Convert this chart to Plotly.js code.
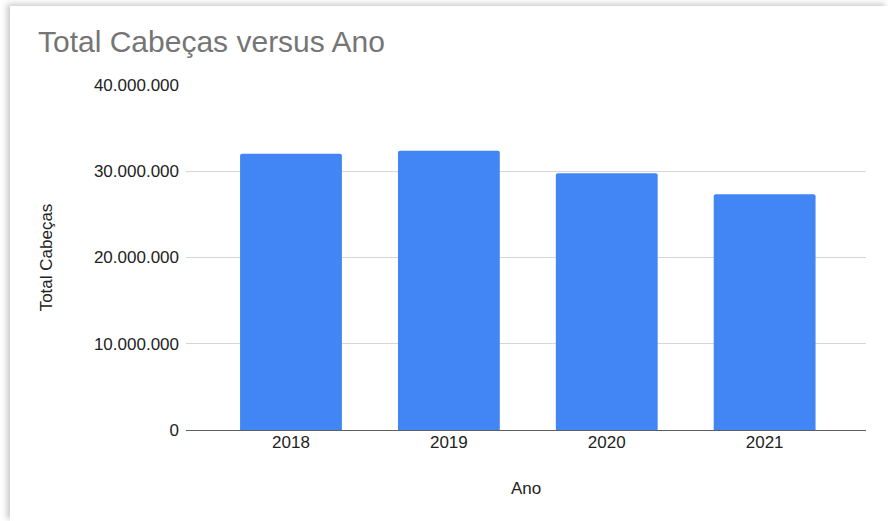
<!DOCTYPE html>
<html>
<head>
<meta charset="utf-8">
<script src="https://cdn.plot.ly/plotly-3.0.1.min.js"></script>
<style>
html,body{margin:0;padding:0;background:#fff;width:888px;height:521px;overflow:hidden;}
#chart{position:absolute;left:10px;top:6px;width:878px;height:515px;box-shadow:-3px -2px 6px rgba(0,0,0,0.22);background:#fff;}
</style>
</head>
<body>
<div id="chart"></div>
<script>
const anos = ['2018', '2019', '2020', '2021'];
const totalCabecas = [32020000, 32370000, 29780000, 27340000];
const yTicks = [0, 10000000, 20000000, 30000000, 40000000];

const trace = {
  type: 'bar',
  x: anos,
  y: totalCabecas,
  marker: {color: '#4285F4', cornerradius: 2},
  width: 0.645,
  hoverinfo: 'x+y'
};

const layout = {
  width: 878,
  height: 515,
  separators: ',.',
  paper_bgcolor: '#ffffff',
  plot_bgcolor: '#ffffff',
  margin: {l: 176, r: 22, t: 79, b: 91},
  font: {family: 'Liberation Sans, Arial, sans-serif', color: '#222222', size: 17},
  title: {
    text: 'Total Cabeças versus Ano',
    font: {family: 'Liberation Sans, Arial, sans-serif', size: 30, color: '#757575'},
    xref: 'container', x: 28/878, xanchor: 'left',
    yref: 'container', y: 1 - 25/515, yanchor: 'top'
  },
  xaxis: {
    type: 'category',
    range: [-0.665, 3.642],
    showgrid: false,
    showline: false,
    zeroline: false,
    ticks: '',
    tickfont: {size: 17, color: '#222222'},
    title: {text: 'Ano', font: {size: 17, color: '#222222'}, standoff: 31},
    fixedrange: true
  },
  yaxis: {
    range: [0, 40000000],
    tickvals: yTicks,
    tickformat: ',.0f',
    showgrid: true,
    gridcolor: '#d6d6d6',
    gridwidth: 1,
    zeroline: true,
    zerolinecolor: '#5f5f5f',
    zerolinewidth: 1,
    ticks: '',
    ticklabelstandoff: 6,
    tickfont: {size: 17, color: '#222222'},
    title: {text: 'Total Cabeças', font: {size: 17, color: '#222222'}, standoff: 36},
    fixedrange: true
  },
  showlegend: false
};

Plotly.newPlot('chart', [trace], layout, {displayModeBar: false, staticPlot: true});
</script>
</body>
</html>
